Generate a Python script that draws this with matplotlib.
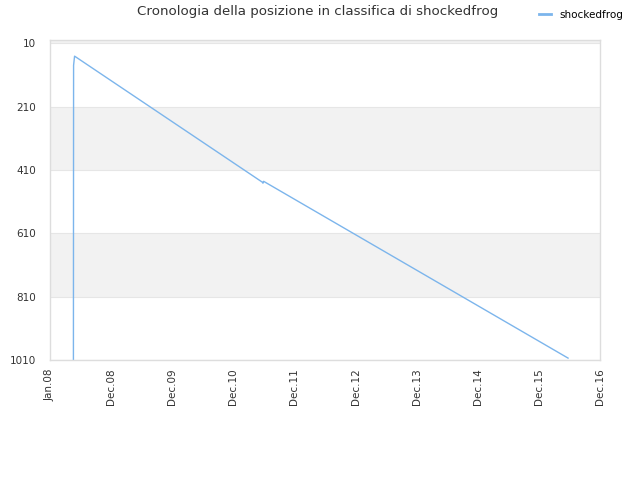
import matplotlib
matplotlib.use("Agg")
import matplotlib.pyplot as plt
from datetime import datetime

dates = ["2008-05-20", "2008-05-21", "2008-05-25", "2008-05-27",
         "2011-06-24", "2011-06-27", "2011-07-01", "2016-06-24"]
ranks = [1010, 80, 60, 51, 449, 452, 446, 1004]
series_name = "shockedfrog"
title = "Cronologia della posizione in classifica di shockedfrog"
y_ticks = [10, 210, 410, 610, 810, 1010]
x_tick_years = list(range(2008, 2017 + 1))
x_tick_labels = ["Jan.08", "Dec.08", "Dec.09", "Dec.10", "Dec.11", "Dec.12",
                 "Dec.13", "Dec.14", "Dec.15", "Dec.16"]

xs = [datetime.strptime(d, "%Y-%m-%d") for d in dates]

fig = plt.figure(figsize=(6.4, 4.8), dpi=100)
ax = fig.add_axes([50/640, 1 - 360/480, 550/640, 320/480])

ax.set_ylim(1010, 0)
ax.set_xlim(datetime(2008, 1, 1), datetime(2017, 1, 1))

# alternating bands
bands = [(-190, 10), (210, 410), (610, 810)]
for lo, hi in bands:
    ax.axhspan(lo, hi, color="#f2f2f2", zorder=0, lw=0)
for t in y_ticks:
    ax.axhline(t, color="#e6e6e6", lw=0.8, zorder=0.5)

ax.plot(xs, ranks, color="#7cb5ec", lw=1, label=series_name, zorder=2)

ax.set_yticks(y_ticks)
ax.set_yticklabels([str(t) for t in y_ticks])
ax.set_xticks([datetime(y, 1, 1) for y in x_tick_years])
ax.set_xticklabels(x_tick_labels, rotation=90)
ax.tick_params(axis="y", length=0, labelsize=7.5, colors="#333333", pad=10)
ax.tick_params(axis="x", length=0, labelsize=7.5, colors="#333333", pad=6)

for s in ax.spines.values():
    s.set_color("#dddddd")
    s.set_linewidth(1)

fig.suptitle(title, x=318/640, y=1 - 12/480, va="center", fontsize=9.6, color="#333333")
leg = fig.legend(loc="center left", bbox_to_anchor=(530/640, 1 - 15/480), frameon=False,
                 fontsize=7.5, handlelength=1.1, handletextpad=0.8)
for h in leg.get_lines():
    h.set_linewidth(2)
    h.set_color("#7cb5ec")

fig.savefig("out.png", dpi=100, facecolor="white")
